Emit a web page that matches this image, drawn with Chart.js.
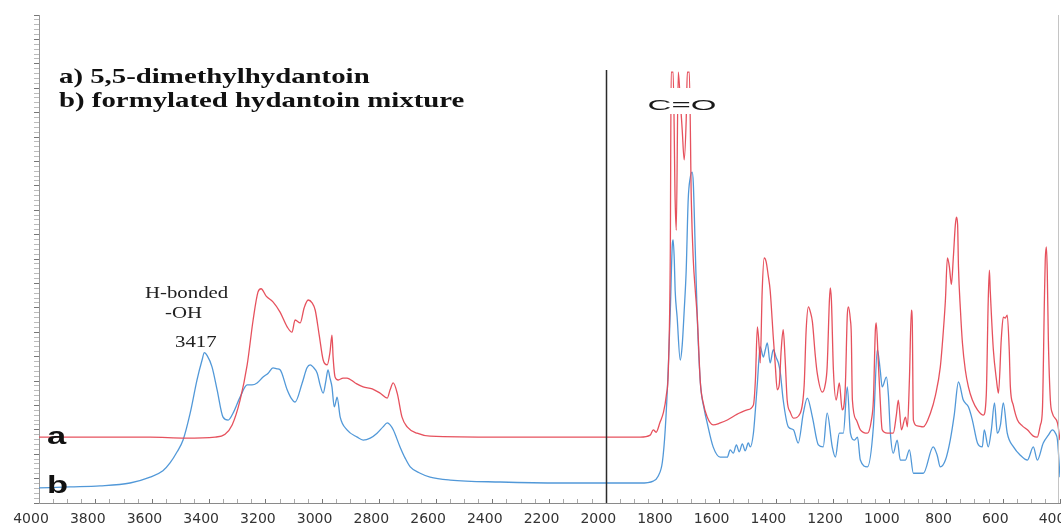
<!DOCTYPE html>
<html>
<head>
<meta charset="utf-8">
<title>IR spectra: 5,5-dimethylhydantoin and formylated hydantoin mixture</title>
<script src="https://cdn.jsdelivr.net/npm/chart.js@4.4.1/dist/chart.umd.min.js"></script>
<style>
  html, body { margin: 0; padding: 0; background: #ffffff; }
  #wrap { width: 1061px; height: 523px; position: relative; }
  canvas { display: block; }
</style>
</head>
<body>
<div id="wrap"><canvas id="spectrum" width="1061" height="523"></canvas></div>
<script>
// Wavenumber tick labels (cm-1), shown every 200
const tickLabels = [4000, 3800, 3600, 3400, 3200, 3000, 2800, 2600, 2400, 2200, 2000, 1800, 1600, 1400, 1200, 1000, 800, 600, 400];

// Series names
const seriesNames = ['a) 5,5-dimethylhydantoin', 'b) formylated hydantoin mixture'];
const traceTags = ['a', 'b'];

// Trace a: 5,5-dimethylhydantoin (offset absorbance, arbitrary units)
const wavenumbersA = [4000,3785,3608,3485,3379,3344,3319,3291,3266,3245,3228,3217,3199,3175,3150,3125,3108,3097,3079,3065,3051,3037,3026,3012,2998,2984,2974,2967,2963,2956,2945,2928,2914,2885,2857,2825,2797,2772,2762,2751,2737,2720,2702,2667,2621,2374,2162,1880,1845,1834,1824,1810,1799,1788,1781,1774,1771,1764,1757,1753,1746,1739,1732,1725,1718,1714,1707,1700,1693,1686,1679,1668,1658,1644,1623,1598,1573,1538,1503,1481,1474,1467,1460,1457,1450,1443,1436,1429,1422,1411,1404,1397,1390,1383,1376,1369,1362,1351,1340,1316,1302,1295,1287,1280,1273,1263,1256,1238,1228,1221,1213,1210,1206,1199,1189,1178,1168,1157,1150,1146,1139,1136,1132,1118,1104,1079,1065,1058,1051,1048,1041,1034,1027,1009,988,977,970,959,945,938,931,924,921,917,903,882,857,839,822,811,804,797,790,783,776,769,765,761,758,751,744,734,723,709,691,670,660,653,649,646,635,624,617,607,600,593,586,579,575,565,550,533,515,494,480,469,462,455,452,448,445,441,434,427,409,400];
const absorbanceA = [13.5,13.5,13.5,13.3,13.5,14.1,16.0,21.1,28.3,37.5,43.2,43.9,42.4,41.2,39.1,36.1,35.0,37.5,36.9,40.0,41.6,41.0,39.5,34.4,29.3,28.3,30.9,34.4,29.9,25.8,25.2,25.6,25.6,24.6,23.8,23.4,22.5,21.5,23.2,24.6,22.5,17.6,15.6,14.3,13.7,13.5,13.5,13.5,13.9,15.0,14.5,16.6,18.4,22.1,27.3,51.8,88.3,88.3,62.1,55.9,88.3,82.6,76.4,70.3,78.5,88.3,88.3,62.1,49.8,43.6,38.1,24.6,20.5,17.6,16.0,16.4,17.0,18.2,19.1,20.1,25.2,36.1,31.4,28.7,43.6,50.2,49.4,46.7,43.6,34.0,28.3,23.2,24.2,31.4,35.5,29.3,21.1,18.6,17.4,18.4,24.2,35.5,40.2,39.1,37.1,30.3,26.6,22.7,24.2,27.9,41.6,44.1,41.6,27.3,21.1,24.6,19.1,23.8,38.5,40.2,37.5,34.8,21.1,17.0,15.0,14.3,17.0,21.1,35.5,36.9,29.3,21.1,15.0,14.3,14.3,18.0,21.1,15.0,17.6,15.6,25.2,39.5,37.5,17.0,15.8,15.6,18.4,22.1,27.9,35.5,41.6,50.2,48.4,44.8,50.4,57.0,58.6,57.0,48.4,39.5,32.8,27.3,23.8,21.1,19.1,18.0,22.1,41.6,47.7,43.6,31.4,25.2,22.5,33.6,38.1,37.9,38.5,31.4,23.8,20.1,17.0,15.8,15.0,13.7,13.5,16.0,19.1,41.6,49.8,52.5,47.7,33.4,21.1,18.4,16.4,12.9];

// Trace b: formylated hydantoin mixture
const wavenumbersB = [4000,3891,3785,3679,3608,3563,3538,3513,3492,3467,3443,3425,3417,3407,3390,3372,3351,3333,3316,3291,3266,3249,3231,3210,3192,3175,3161,3150,3125,3111,3097,3072,3055,3044,3034,3019,3009,2998,2988,2981,2974,2967,2959,2952,2949,2938,2914,2878,2857,2832,2808,2787,2772,2762,2751,2727,2709,2691,2656,2621,2550,2374,2162,2021,1880,1834,1817,1802,1792,1781,1774,1767,1764,1760,1757,1750,1739,1732,1725,1718,1711,1704,1697,1693,1686,1679,1668,1654,1644,1623,1598,1573,1563,1552,1541,1531,1520,1510,1499,1492,1481,1474,1467,1457,1446,1439,1432,1422,1411,1400,1393,1386,1376,1358,1340,1323,1305,1291,1273,1252,1235,1221,1203,1192,1178,1164,1150,1139,1125,1114,1104,1079,1058,1044,1034,1027,1012,1005,998,988,974,963,945,931,917,882,847,833,822,804,787,773,758,741,723,709,691,674,667,653,642,631,621,610,600,586,564,540,515,494,480,459,441,427,416,409,400];
const absorbanceB = [3.1,3.3,3.5,4.1,5.3,6.6,8.2,10.5,12.9,18.4,25.2,29.3,30.8,30.2,27.9,23.2,17.6,17.0,18.4,21.7,24.2,24.2,24.6,25.8,26.6,27.7,27.5,27.3,23.2,21.5,20.7,24.6,27.7,28.3,27.9,26.6,24.2,22.5,25.2,27.3,25.6,23.8,19.7,21.1,21.7,17.6,15.0,13.5,12.9,13.3,14.3,15.6,16.4,16.0,15.0,11.5,9.2,7.4,6.1,5.3,4.7,4.3,4.1,4.1,4.1,4.5,5.5,8.4,15.0,27.9,39.5,52.9,53.9,49.8,43.6,38.1,29.3,32.4,39.5,47.7,62.1,66.6,67.8,65.6,51.8,38.1,24.6,19.1,16.4,11.5,9.4,9.4,10.9,10.2,11.9,10.5,12.1,10.7,12.3,11.5,14.3,19.1,24.6,32.0,29.9,31.4,32.8,28.7,31.4,29.7,28.7,26.6,21.1,15.6,15.0,12.3,18.4,21.5,17.6,11.9,11.5,18.4,11.5,9.4,14.3,14.3,23.8,14.3,12.9,13.5,8.8,7.4,15.6,31.4,27.3,23.8,25.8,22.1,14.3,10.2,12.9,8.8,8.8,10.9,6.1,6.1,11.5,9.8,7.4,8.8,12.9,18.0,24.8,21.1,19.7,17.0,12.3,11.5,15.0,11.5,15.0,20.5,14.3,16.0,20.5,14.3,11.5,9.8,8.8,11.5,8.8,12.3,13.9,15.0,14.3,12.9,5.3];

// Marked band and region divider
const ohPeakWavenumber = 3417;
const dividerWavenumber = 2000;

function toPoints(xs, ys) {
  return xs.map((v, i) => ({ x: v, y: ys[i] }));
}

// Horizontally widened text, drawn in canvas pixels
function wideText(ctx, text, x, y, font, color, sx, align) {
  ctx.save();
  ctx.font = font;
  ctx.fillStyle = color;
  ctx.textBaseline = 'alphabetic';
  ctx.translate(x, y);
  ctx.scale(sx, 1);
  const w = ctx.measureText(text).width;
  ctx.fillText(text, align === 'center' ? -w / 2 : 0, 0);
  ctx.restore();
}

const spectrumNotes = {
  id: 'spectrumNotes',
  afterDatasetsDraw(chart) {
    const { ctx, chartArea, scales } = chart;
    const xs = scales.x;
    ctx.save();

    // right frame line
    ctx.strokeStyle = '#c4c4c4';
    ctx.lineWidth = 1;
    ctx.beginPath();
    ctx.moveTo(chartArea.right - 1.5, chartArea.top);
    ctx.lineTo(chartArea.right - 1.5, chartArea.bottom);
    ctx.stroke();

    // divider between the two wavenumber regions
    const xd = Math.round(xs.getPixelForValue(dividerWavenumber)) + 0.5;
    ctx.strokeStyle = '#2b2b2b';
    ctx.lineWidth = 1.5;
    ctx.beginPath();
    ctx.moveTo(xd, 70);
    ctx.lineTo(xd, chartArea.bottom);
    ctx.stroke();

    // carbonyl label on a white patch
    ctx.fillStyle = '#ffffff';
    ctx.fillRect(642, 88, 80, 26);
    wideText(ctx, 'C=O', 682, 110, '15px "Liberation Sans", Arial, sans-serif', '#1a1a1a', 2.2, 'center');

    // legend block
    const serifBold = 'bold 22px "Liberation Serif", "Times New Roman", serif';
    wideText(ctx, seriesNames[0], 59, 83, serifBold, '#111111', 1.31, 'left');
    wideText(ctx, seriesNames[1], 59, 107, serifBold, '#111111', 1.31, 'left');

    // O-H band note
    const serif = '16px "Liberation Serif", "Times New Roman", serif';
    wideText(ctx, 'H-bonded', 145, 298, serif, '#222222', 1.3, 'left');
    wideText(ctx, '-OH', 165, 318, serif, '#222222', 1.3, 'left');
    wideText(ctx, String(ohPeakWavenumber), 175, 347, serif, '#222222', 1.3, 'left');

    // trace tags
    const tagFont = 'bold 23px "Liberation Sans", Arial, sans-serif';
    wideText(ctx, traceTags[0], 47, 444, tagFont, '#111111', 1.5, 'left');
    wideText(ctx, traceTags[1], 47, 493, tagFont, '#111111', 1.5, 'left');

    ctx.restore();
  }
};

new Chart(document.getElementById('spectrum'), {
  type: 'line',
  data: {
    datasets: [
      {
        label: seriesNames[0],
        data: toPoints(wavenumbersA, absorbanceA),
        borderColor: 'rgba(229, 72, 84, 0.95)',
        borderWidth: 1.3,
        pointRadius: 0,
        cubicInterpolationMode: 'monotone',
        fill: false,
        order: 1
      },
      {
        label: seriesNames[1],
        data: toPoints(wavenumbersB, absorbanceB),
        borderColor: 'rgba(72, 146, 214, 0.95)',
        borderWidth: 1.3,
        pointRadius: 0,
        cubicInterpolationMode: 'monotone',
        fill: false,
        order: 2
      }
    ]
  },
  options: {
    responsive: false,
    animation: false,
    events: [],
    layout: { padding: { top: 15, right: 1, left: 0, bottom: 0 } },
    plugins: {
      legend: { display: false },
      tooltip: { enabled: false },
      title: { display: false }
    },
    scales: {
      x: {
        type: 'linear',
        reverse: true,
        min: 400,
        max: 4000,
        border: { display: true, color: '#8a8a8a', width: 1 },
        grid: {
          drawOnChartArea: false,
          drawTicks: true,
          tickLength: -4,
          tickColor: (c) => (c.tick && c.tick.value % 200 === 0 ? '#777777' : '#aaaaaa')
        },
        ticks: {
          stepSize: 50,
          autoSkip: false,
          maxRotation: 0,
          minRotation: 0,
          padding: 12,
          labelOffset: -8,
          color: '#333333',
          font: { family: '"DejaVu Sans", sans-serif', size: 14 },
          callback: (v) => (tickLabels.includes(v) ? String(v) : '')
        },
        afterFit(scale) {
          scale.height = 20;
          scale.paddingLeft = 0;
          scale.paddingRight = 0;
        }
      },
      y: {
        type: 'linear',
        min: 0,
        max: 100,
        border: { display: true, color: '#9a9a9a', width: 1 },
        grid: {
          drawOnChartArea: false,
          drawTicks: true,
          tickLength: 5,
          tickColor: (c) => (c.tick && c.tick.value % 5 === 0 ? '#777777' : '#bbbbbb')
        },
        ticks: { display: false, stepSize: 1 },
        afterFit(scale) {
          scale.width = 39;
        }
      }
    }
  },
  plugins: [spectrumNotes]
});
</script>
</body>
</html>
